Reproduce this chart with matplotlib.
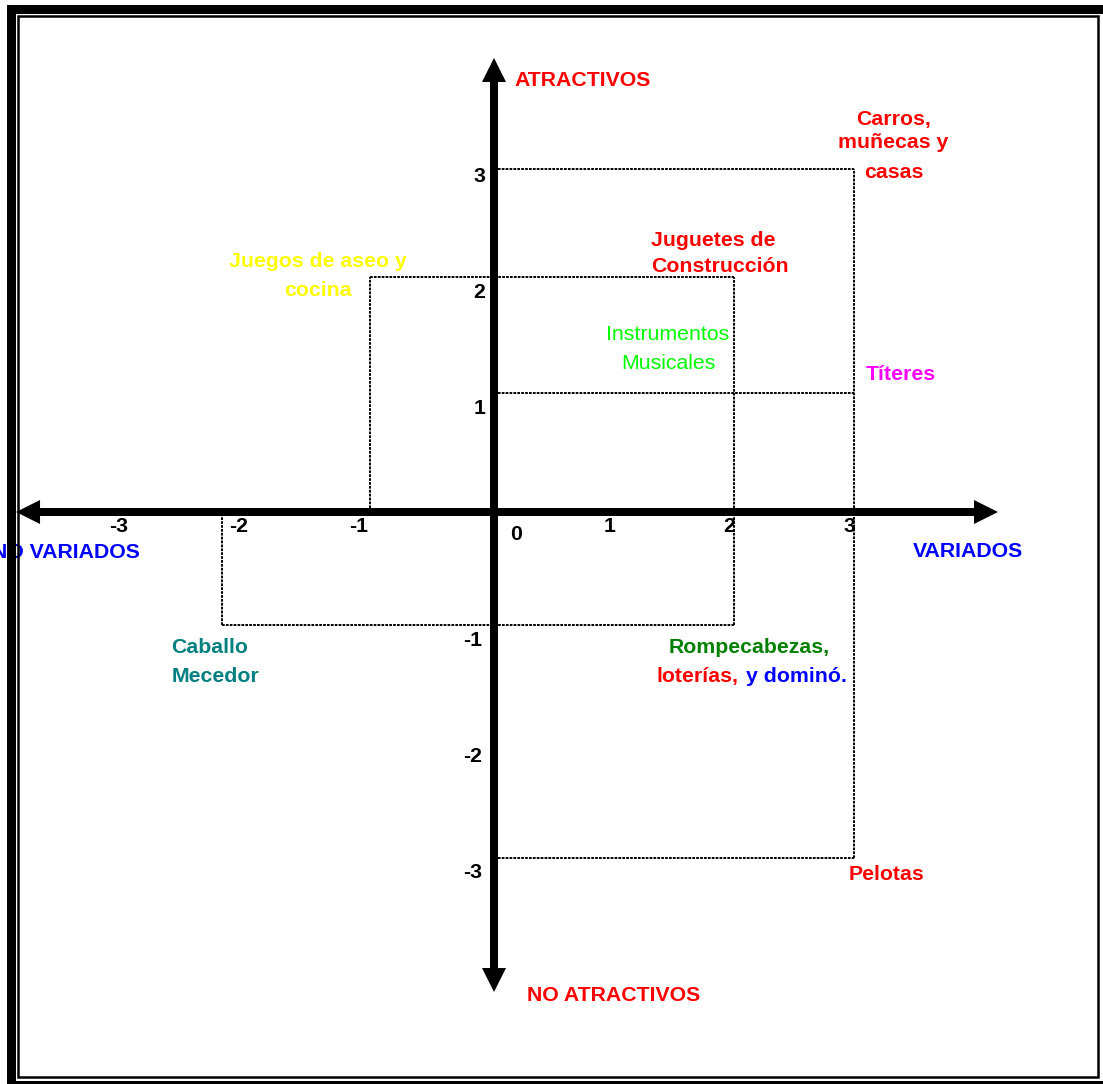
import matplotlib
matplotlib.use('Agg')
import matplotlib.pyplot as plt
from matplotlib.patches import Rectangle

plt.rcParams['font.family'] = ['Liberation Sans', 'DejaVu Sans']

# ---------------- data ----------------
items = ['Carros, muñecas y casas', 'Juguetes de Construcción', 'Juegos de aseo y cocina',
         'Títeres', 'Caballo Mecedor', 'Rompecabezas, loterías, y dominó.', 'Pelotas']
variedad = [3.0, 2.0, -1.03, 3.0, -2.27, 2.0, 3.0]      # x (variados)
atractivo = [2.96, 2.03, 2.03, 1.03, -0.97, -0.97, -2.98]  # y (atractivos)
x_ticks = [-3, -2, -1, 1, 2, 3]
y_ticks = [3, 2, 1, -1, -2, -3]

# ---------------- layout ----------------
W, H, DPI = 1103, 1084, 100
X0, Y0 = 494, 512      # pixel position of origin
SX, SY = 120, 116      # pixels per unit
FS = 15.3

fig = plt.figure(figsize=(W / DPI, H / DPI), dpi=DPI)
ax = fig.add_axes([0, 0, 1, 1])
ax.set_xlim(-X0 / SX, (W - X0) / SX)
ax.set_ylim(-(H - Y0) / SY, Y0 / SY)
ax.axis('off')

# dotted projection lines (merged so overlapping dashes stay dotted)
dot = dict(color='black', lw=1.4, linestyle=(0, (1.4, 0.6)), zorder=2)
for ux in sorted(set(variedad)):
    ys = [y for x, y in zip(variedad, atractivo) if x == ux] + [0]
    ax.plot([ux, ux], [min(ys), max(ys)], **dot)
for uy in sorted(set(atractivo)):
    xs = [x for x, y in zip(variedad, atractivo) if y == uy] + [0]
    ax.plot([min(xs), max(xs)], [uy, uy], **dot)

# axes arrows
x_left, x_right = -3.983, 4.2
y_top, y_bot = 3.914, -4.138
for end in (x_left, x_right):
    ax.arrow(0, 0, end, 0, width=8 / SY, head_width=24 / SY, head_length=24 / SX,
             length_includes_head=True, fc='black', ec='none', zorder=4)
for end in (y_top, y_bot):
    ax.arrow(0, 0, 0, end, width=8 / SX, head_width=24 / SX, head_length=24 / SY,
             length_includes_head=True, fc='black', ec='none', zorder=4)

# tick labels
for v in x_ticks:
    dx = -0.13 if v < 0 else -0.04
    ax.text(v + dx, -0.17, str(v), ha='center', va='baseline', fontsize=FS,
            fontweight='bold', color='black', zorder=5)
ax.text(0.18, -0.241, '0', ha='center', va='baseline', fontsize=FS,
        fontweight='bold', color='black', zorder=5)
for v in y_ticks:
    xx = -0.07 if v > 0 else -0.1
    ax.text(xx, v - 0.155, str(v), ha='right', va='baseline', fontsize=FS,
            fontweight='bold', color='black', zorder=5)

# axis titles
ax.text(0.167, 3.672, 'ATRACTIVOS', ha='left', va='baseline', fontsize=FS,
        fontweight='bold', color='#FF0000')
ax.text(0.275, -4.216, 'NO ATRACTIVOS', ha='left', va='baseline', fontsize=FS,
        fontweight='bold', color='#FF0000')
ax.text(3.95, -0.388, 'VARIADOS', ha='center', va='baseline', fontsize=FS,
        fontweight='bold', color='#0000FF')
ax.text(-2.95, -0.397, 'NO VARIADOS', ha='right', va='baseline', fontsize=FS,
        fontweight='bold', color='#0000FF')

# item labels (text, x, y, color, ha, weight)
labels = [
    ('Carros,', 3.33, 3.336, '#FF0000', 'center', 'bold'),
    ('muñecas y', 3.33, 3.138, '#FF0000', 'center', 'bold'),
    ('casas', 3.33, 2.879, '#FF0000', 'center', 'bold'),
    ('Juguetes de', 1.308, 2.293, '#FF0000', 'left', 'bold'),
    ('Construcción', 1.308, 2.069, '#FF0000', 'left', 'bold'),
    ('Juegos de aseo y', -1.467, 2.112, '#FFFF00', 'center', 'bold'),
    ('cocina', -1.467, 1.862, '#FFFF00', 'center', 'bold'),
    ('Instrumentos', 1.45, 1.483, '#00FF00', 'center', 'normal'),
    ('Musicales', 1.45, 1.233, '#00FF00', 'center', 'normal'),
    ('Títeres', 3.39, 1.138, '#FF00FF', 'center', 'bold'),
    ('Caballo', -2.69, -1.216, '#008080', 'left', 'bold'),
    ('Mecedor', -2.69, -1.466, '#008080', 'left', 'bold'),
    ('Rompecabezas,', 1.458, -1.216, '#008000', 'left', 'bold'),
    ('loterías,', 1.358, -1.466, '#FF0000', 'left', 'bold'),
    ('y dominó.', 2.1, -1.466, '#0000FF', 'left', 'bold'),
    ('Pelotas', 3.275, -3.172, '#FF0000', 'center', 'bold'),
]
for t, x, y, c, ha, w in labels:
    ax.text(x, y, t, ha=ha, va='baseline', fontsize=FS, fontweight=w, color=c, zorder=5)

# page border (thick outer + thin inner)
def frame(l, t, r, b, lw_px):
    fig.add_artist(Rectangle((l / W, 1 - b / H), (r - l) / W, (b - t) / H,
                             transform=fig.transFigure, fill=False, ec='black',
                             lw=lw_px * 72 / DPI, zorder=10))

frame(10.5, 8.5, 1104.5, 1084.5, 9)
frame(17.5, 15.5, 1098, 1077, 2.5)

fig.savefig('out.png', dpi=DPI)
